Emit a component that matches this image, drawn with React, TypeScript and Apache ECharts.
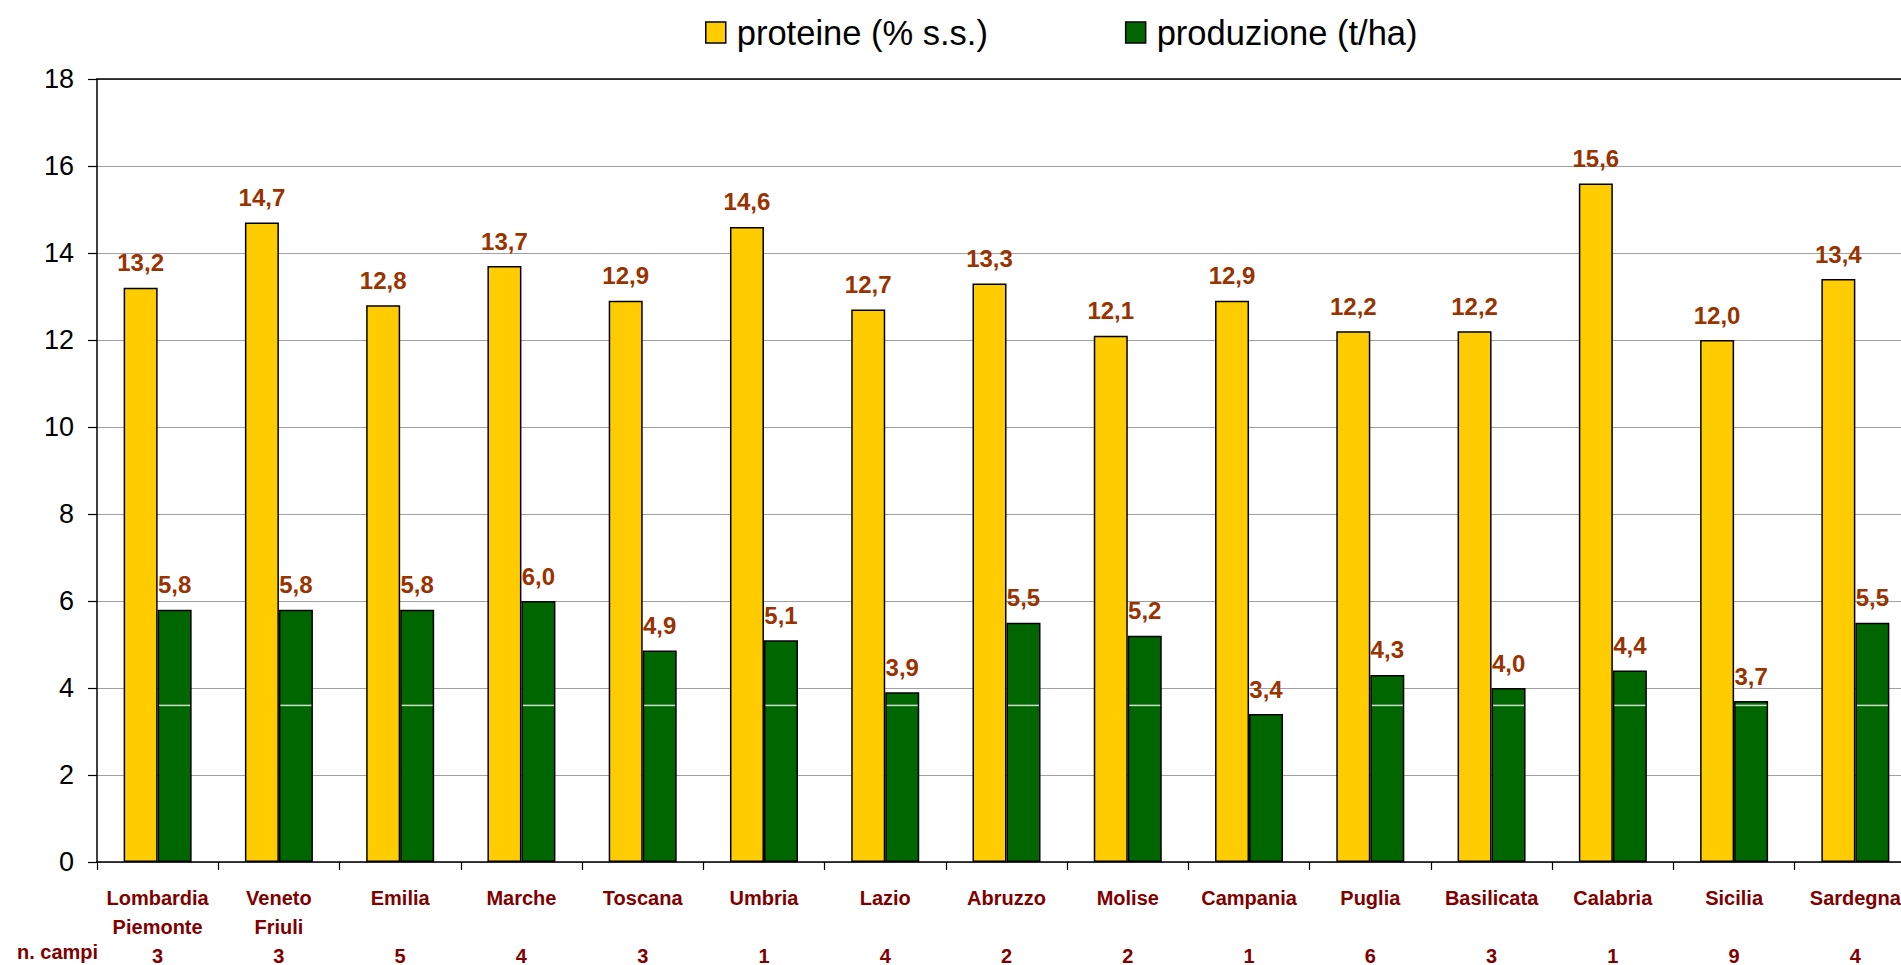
import React, { useEffect, useRef } from "react";
import * as echarts from "echarts";

const regions = [
  "Lombardia\nPiemonte",
  "Veneto\nFriuli",
  "Emilia",
  "Marche",
  "Toscana",
  "Umbria",
  "Lazio",
  "Abruzzo",
  "Molise",
  "Campania",
  "Puglia",
  "Basilicata",
  "Calabria",
  "Sicilia",
  "Sardegna",
];
const nCampi = [3, 3, 5, 4, 3, 1, 4, 2, 2, 1, 6, 3, 1, 9, 4];
const proteine = [13.2, 14.7, 12.8, 13.7, 12.9, 14.6, 12.7, 13.3, 12.1, 12.9, 12.2, 12.2, 15.6, 12.0, 13.4];
const produzione = [5.8, 5.8, 5.8, 6.0, 4.86, 5.1, 3.9, 5.5, 5.2, 3.4, 4.3, 4.0, 4.4, 3.7, 5.5];
const whiteMark = [3.6, 3.6, 3.6, 3.6, 3.6, 3.6, 3.6, 3.6, 3.6, 3.6, 3.6, 3.6, 3.6, 3.6, 3.6];
const yTicks = { min: 0, max: 18, interval: 2 };
const seriesNames = ["proteine (% s.s.)", "produzione (t/ha)"];
const campiLabel = "n. campi";

const FONT = "'Liberation Sans', Arial, sans-serif";

export default function App() {
  const ref = useRef<HTMLDivElement>(null);
  useEffect(() => {
    if (!ref.current) return;
    const chart = echarts.init(ref.current, undefined, { renderer: "svg" });
    const categories = regions.map((r, i) => {
      const lines = r.split("\n");
      while (lines.length < 2) lines.push("");
      return lines.join("\n") + "\n" + nCampi[i];
    });
    const fmt = (p: any) => Number(p.value).toFixed(1).replace(".", ",");
    const valueLabel = {
      show: true,
      position: "top" as const,
      distance: 13,
      formatter: fmt,
      color: "#993300",
      fontFamily: FONT,
      fontWeight: "bold" as const,
      fontSize: 24,
    };
    chart.setOption({
      animation: false,
      backgroundColor: "#ffffff",
      textStyle: { fontFamily: FONT },
      legend: {
        data: seriesNames,
        left: 705,
        top: 15,
        padding: 0,
        itemWidth: 20,
        itemHeight: 21,
        itemGap: 137,
        icon: "rect",
        itemStyle: { borderColor: "#000", borderWidth: 1.5 },
        textStyle: { fontSize: 34.5, color: "#000", fontFamily: FONT, padding: [0, 0, 0, 6] },
        selectedMode: false,
      },
      grid: {
        left: 97,
        right: -15,
        top: 79,
        bottom: 103,
        containLabel: false,
        outerBoundsMode: "none",
      },
      xAxis: [
        {
          type: "category",
          data: categories,
          axisLine: { show: true, lineStyle: { color: "#000", width: 1.5 } },
          axisTick: { show: true, length: 8, lineStyle: { color: "#000", width: 1.2 } },
          axisLabel: {
            interval: 0,
            margin: 21,
            color: "#800000",
            fontWeight: "bold",
            fontSize: 20,
            lineHeight: 29,
            fontFamily: FONT,
          },
          splitLine: { show: false },
        },
        {
          type: "category",
          data: categories,
          position: "top",
          axisLine: { show: true, lineStyle: { color: "#000", width: 1.5 } },
          axisTick: { show: false },
          axisLabel: { show: false },
          splitLine: { show: false },
        },
      ],
      yAxis: {
        type: "value",
        min: yTicks.min,
        max: yTicks.max,
        interval: yTicks.interval,
        axisLine: { show: true, lineStyle: { color: "#000", width: 1.5 } },
        axisTick: { show: true, length: 9, lineStyle: { color: "#000", width: 1.2 } },
        axisLabel: { margin: 23, color: "#000", fontSize: 27, fontFamily: FONT },
        splitLine: { show: true, lineStyle: { color: "#a0a0a0", width: 1.2 } },
      },
      series: [
        {
          name: seriesNames[0],
          type: "bar",
          data: proteine,
          barWidth: 34,
          barGap: "0%",
          itemStyle: { color: "#FFCC00", borderColor: "#000", borderWidth: 1.5 },
          label: valueLabel,
        },
        {
          name: seriesNames[1],
          type: "bar",
          data: produzione,
          barWidth: 34,
          barGap: "0%",
          itemStyle: { color: "#006600", borderColor: "#000", borderWidth: 1.5 },
          label: valueLabel,
        },
        {
          name: "mark",
          type: "scatter",
          data: whiteMark,
          symbol: "rect",
          symbolSize: [31, 1.5],
          symbolOffset: [17, 0],
          itemStyle: { color: "#ffffff" },
          z: 5,
          silent: true,
        },
      ],
      graphic: [
        {
          type: "text",
          left: 17,
          top: 942,
          style: {
            text: campiLabel,
            fill: "#800000",
            font: `bold 20px ${FONT}`,
          },
        },
      ],
    });
    return () => chart.dispose();
  }, []);
  return (
    <div
      ref={ref}
      style={{ position: "absolute", left: 0, top: 0, width: 1901, height: 965 }}
    />
  );
}
